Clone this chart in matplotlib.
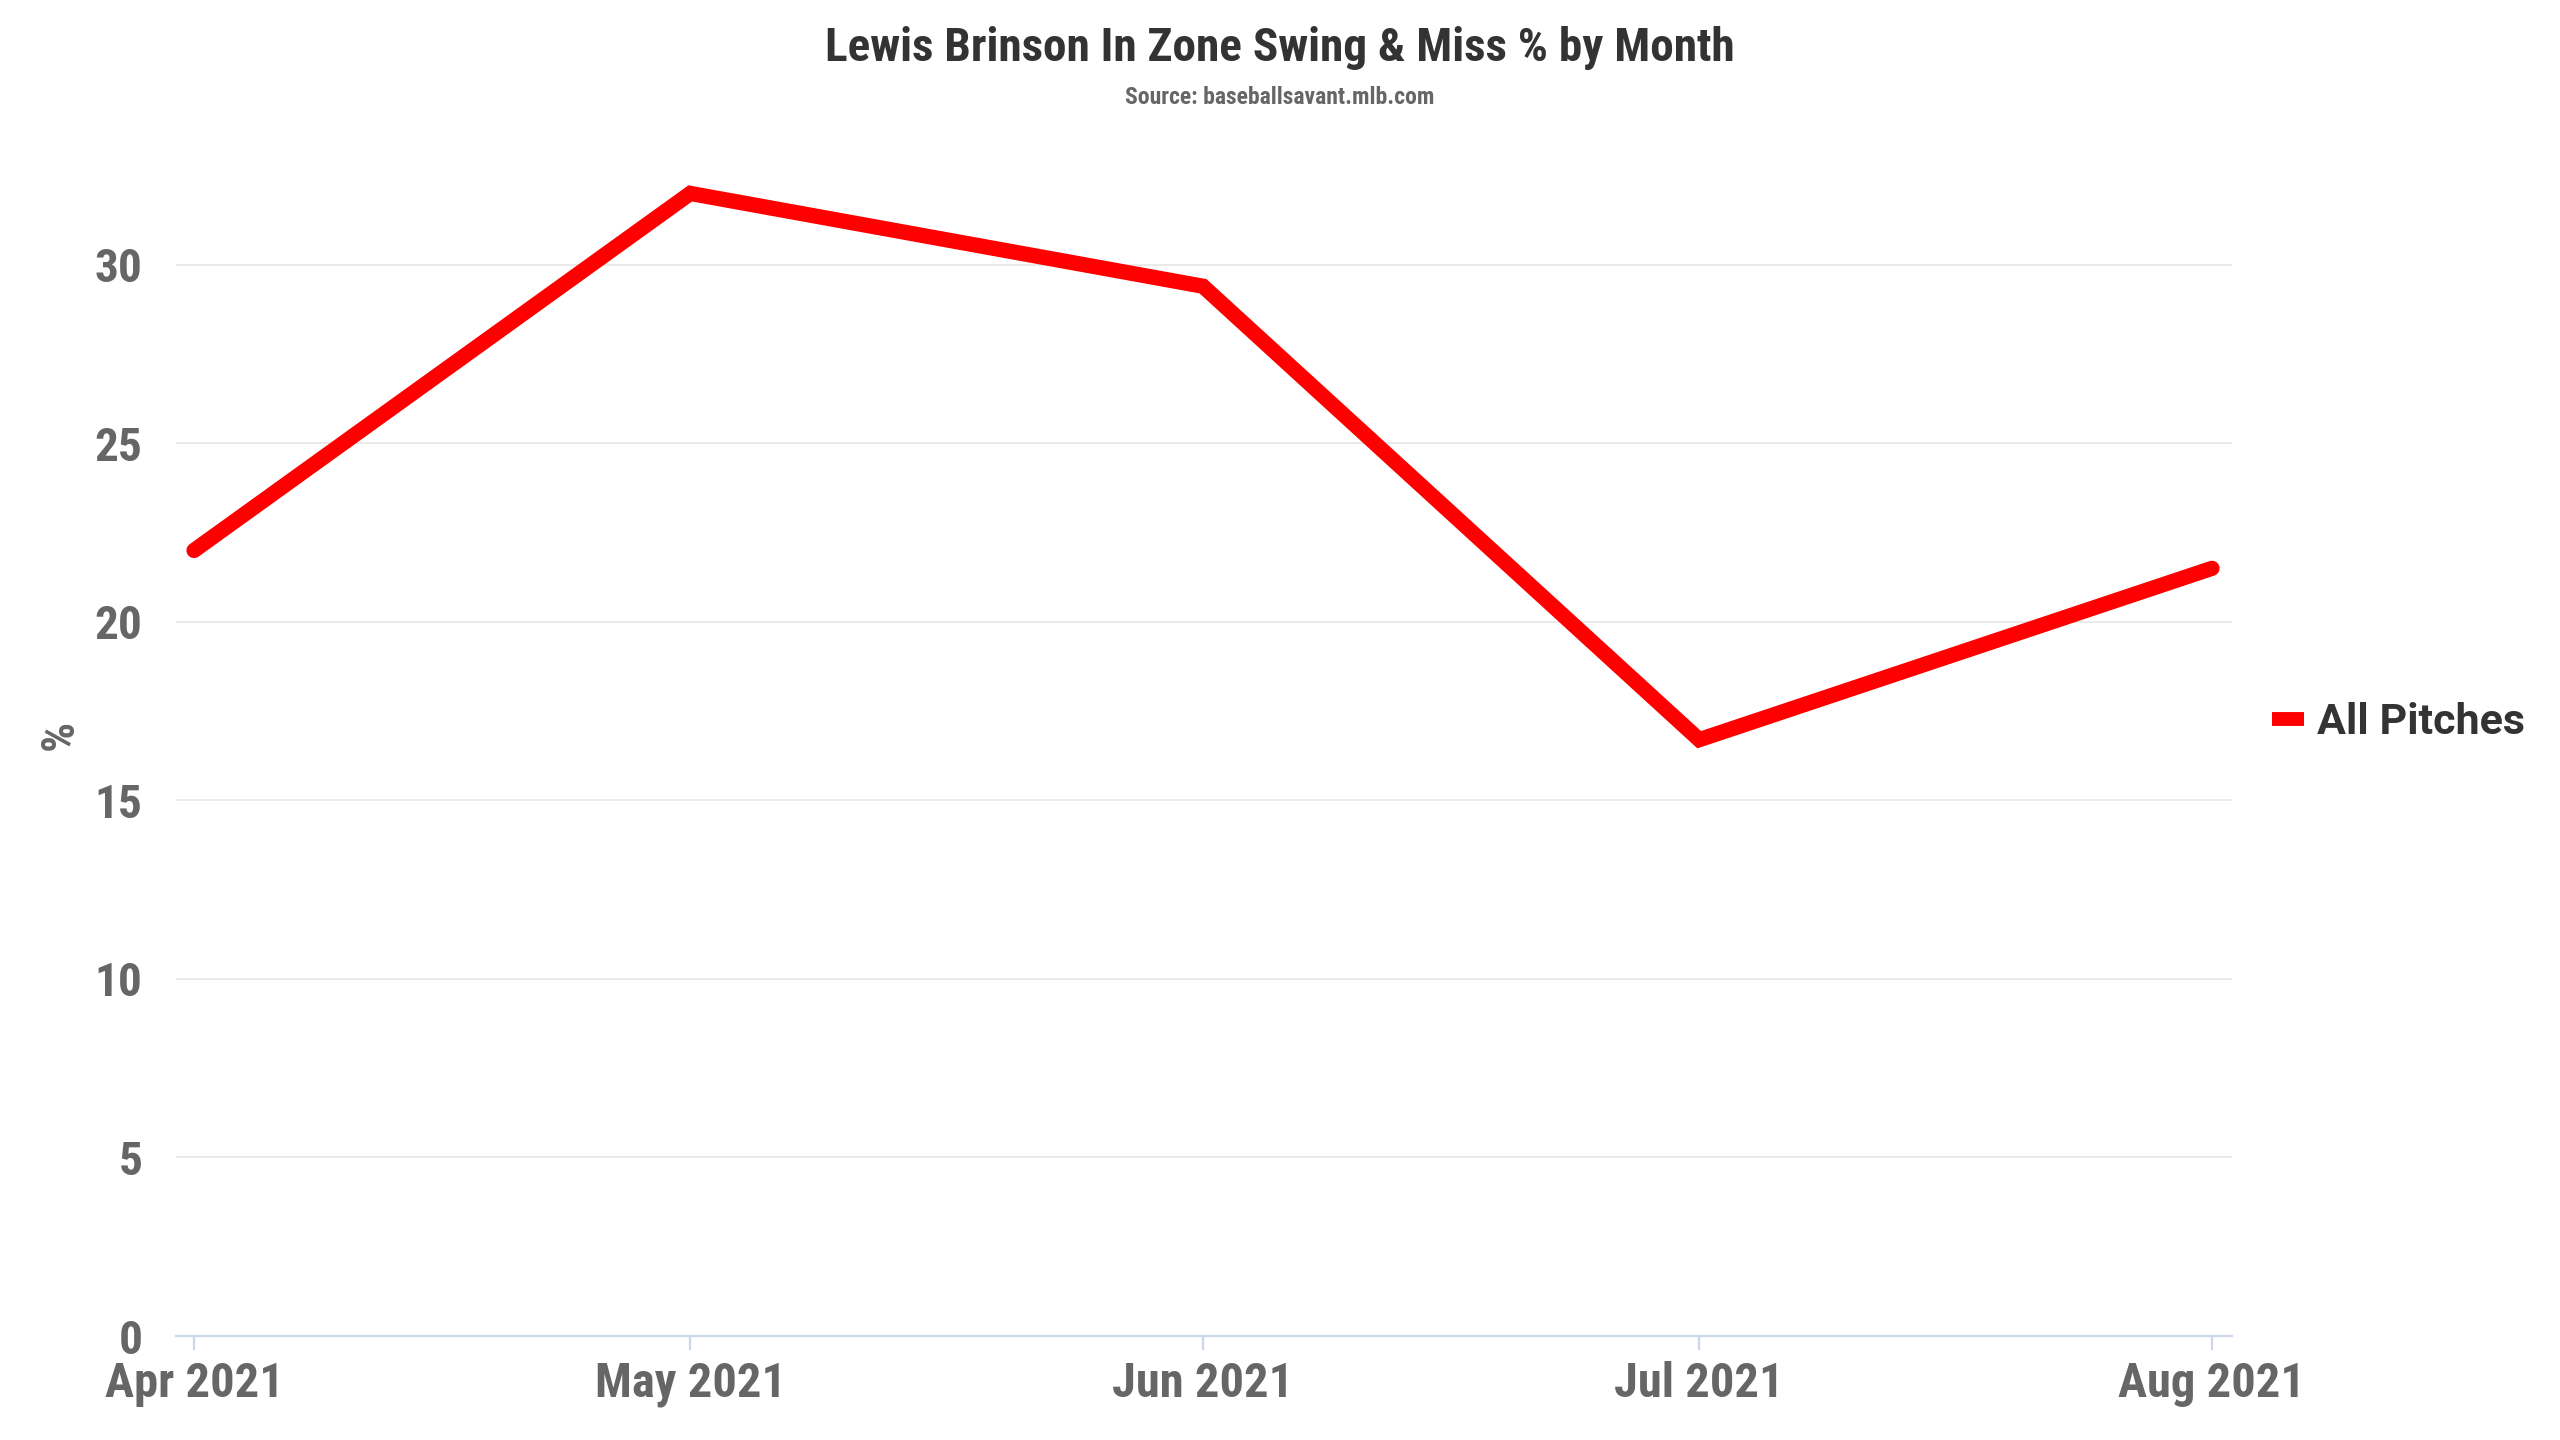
#!/usr/bin/env python3

import datetime as dt

import matplotlib
matplotlib.use('Agg')
import matplotlib.pyplot as plt
import matplotlib.dates as mdates
from matplotlib.lines import Line2D

# data (monthly points on a date axis)
months = [dt.date(2021, 4, 1), dt.date(2021, 5, 1), dt.date(2021, 6, 1),
          dt.date(2021, 7, 1), dt.date(2021, 8, 1)]
month_labels = ['Apr 2021', 'May 2021', 'Jun 2021', 'Jul 2021', 'Aug 2021']
swing_miss_pct = [22.0, 32.0, 29.4, 16.7, 21.5]
y_ticks = [0, 5, 10, 15, 20, 25, 30]
series_name = 'All Pitches'

title = 'Lewis Brinson In Zone Swing & Miss % by Month'
subtitle = 'Source: baseballsavant.mlb.com'

NARROW = ['Roboto Condensed', 'Liberation Sans Narrow', 'Roboto', 'DejaVu Sans']
WIDE = ['Roboto', 'DejaVu Sans']


def main():
    fig = plt.figure(figsize=(25.6, 14.4), dpi=100)
    fig.patch.set_facecolor('white')
    ax = fig.add_axes([176 / 2560, 1 - 1336 / 1440,
                       (2232 - 176) / 2560, (1336 - 122) / 1440])

    ax.plot(months, swing_miss_pct, color='#ff0000', linewidth=11,
            solid_capstyle='round', solid_joinstyle='miter', zorder=3)

    ax.set_xlim(mdates.date2num(months[0]) - 1.09,
                mdates.date2num(months[-1]) + 1.21)
    ax.set_ylim(0, 34)
    ax.set_yticks(y_ticks)
    ax.set_xticks(months)
    ax.set_xticklabels(month_labels)

    # grid and axes
    ax.grid(axis='y', color='#e6e6e6', linewidth=1.2, zorder=0)
    ax.grid(axis='x', visible=False)
    for side in ['top', 'right', 'left']:
        ax.spines[side].set_visible(False)
    ax.spines['bottom'].set_color('#ccd6eb')
    ax.spines['bottom'].set_linewidth(1.6)

    ax.tick_params(axis='y', length=0, pad=24, labelcolor='#666666')
    ax.tick_params(axis='x', length=10, width=1.6, color='#ccd6eb',
                   pad=8, labelcolor='#666666')
    for lab in ax.get_yticklabels():
        lab.set_family(NARROW)
        lab.set_fontweight('bold')
        lab.set_fontsize(34)
    for lab in ax.get_xticklabels():
        lab.set_family(NARROW)
        lab.set_fontweight('bold')
        lab.set_fontsize(35)

    fig.text(60 / 2560, 1 - 735 / 1440, '%', rotation=90, ha='center',
             va='center', color='#666666', fontsize=34, fontweight='bold',
             family=NARROW)

    fig.text(0.5, 1 - 48 / 1440, title, ha='center', va='center',
             color='#333333', fontsize=34, fontweight='bold', family=NARROW)
    fig.text(0.5, 1 - 98 / 1440, subtitle, ha='center', va='center',
             color='#666666', fontsize=17, fontweight='bold', family=NARROW)

    handle = Line2D([0], [0], color='#ff0000', linewidth=10,
                    solid_capstyle='butt')
    leg = fig.legend([handle], [series_name], loc='center left',
                     bbox_to_anchor=(2272 / 2560, 1 - 723 / 1440),
                     frameon=False, handlelength=0.75, handletextpad=0.3,
                     borderpad=0, borderaxespad=0,
                     prop={'family': WIDE, 'weight': 'bold', 'size': 31})
    for t in leg.get_texts():
        t.set_color('#333333')

    fig.savefig('out.png', dpi=100, facecolor='white')


if __name__ == '__main__':
    main()
